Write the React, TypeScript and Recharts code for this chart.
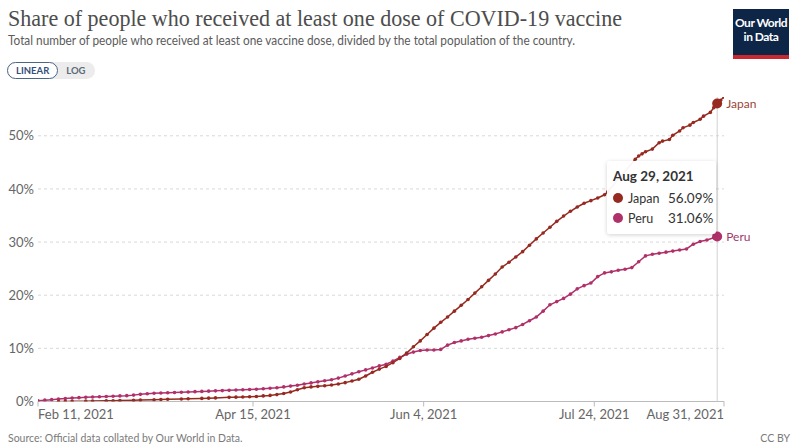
import React from "react";
import {
  LineChart,
  Line,
  XAxis,
  YAxis,
  CartesianGrid,
  Tooltip,
} from "recharts";

// days since Feb 11, 2021
const japanDays = [6, 8, 10, 14, 16, 20, 22, 24, 28, 30, 34, 36, 38, 42, 44, 48, 50, 52, 56, 58, 60, 62, 64, 66, 68, 70, 72, 74, 76, 78, 80, 82, 84, 86, 88, 90, 92, 94, 96, 98, 100, 102, 104, 106, 108, 110, 112, 114, 116, 118, 120, 122, 124, 126, 128, 130, 132, 134, 136, 138, 140, 142, 144, 146, 148, 150, 152, 154, 156, 158, 160, 162, 164, 166, 167, 175, 176, 177, 178, 180, 182, 183, 185, 186, 188, 189, 191, 192, 194, 195, 197, 198, 199, 200, 201];
const japanValues = [0.0, 0.02, 0.04, 0.07, 0.09, 0.12, 0.15, 0.18, 0.22, 0.26, 0.32, 0.37, 0.42, 0.48, 0.53, 0.58, 0.63, 0.68, 0.78, 0.82, 0.86, 0.9, 0.95, 1.05, 1.15, 1.3, 1.5, 1.8, 2.2, 2.6, 2.75, 2.85, 2.95, 3.1, 3.3, 3.55, 3.85, 4.2, 4.8, 5.5, 6.1, 6.6, 7.3, 8.1, 9.1, 10.3, 11.4, 12.6, 13.8, 14.9, 15.9, 17.0, 18.1, 19.2, 20.4, 21.6, 22.8, 24.0, 25.3, 26.2, 27.2, 28.2, 29.4, 30.6, 31.7, 32.8, 33.9, 34.9, 35.8, 36.6, 37.3, 37.8, 38.3, 38.9, 39.5, 45.6, 46.2, 46.6, 47.0, 47.5, 48.7, 49.0, 49.3, 50.1, 50.9, 51.5, 52.0, 52.5, 53.1, 53.7, 54.4, 55.3, 56.09, 56.7, 57.3];

const peruDays = [0, 2, 4, 6, 8, 10, 12, 14, 16, 18, 20, 22, 24, 26, 28, 30, 32, 34, 36, 38, 40, 42, 44, 46, 48, 50, 52, 54, 56, 58, 60, 62, 64, 66, 68, 70, 72, 74, 76, 78, 80, 82, 84, 86, 88, 90, 92, 94, 96, 98, 100, 102, 104, 106, 108, 110, 112, 114, 116, 118, 120, 122, 124, 126, 128, 130, 132, 134, 136, 138, 140, 142, 144, 146, 148, 150, 152, 154, 156, 158, 160, 162, 164, 166, 168, 170, 172, 174, 176, 178, 180, 182, 184, 186, 188, 190, 192, 194, 196, 198, 199];
const peruValues = [0.15, 0.25, 0.35, 0.45, 0.55, 0.65, 0.72, 0.8, 0.85, 0.9, 0.95, 1.0, 1.05, 1.1, 1.2, 1.35, 1.45, 1.55, 1.6, 1.65, 1.7, 1.75, 1.8, 1.85, 1.9, 1.95, 2.0, 2.05, 2.1, 2.15, 2.2, 2.25, 2.3, 2.4, 2.5, 2.6, 2.75, 2.9, 3.05, 3.3, 3.5, 3.7, 3.9, 4.1, 4.4, 4.8, 5.2, 5.6, 5.95, 6.3, 6.7, 7.0, 7.6, 8.3, 8.9, 9.3, 9.6, 9.7, 9.7, 9.8, 10.6, 11.1, 11.4, 11.7, 11.9, 12.1, 12.4, 12.7, 13.1, 13.5, 13.9, 14.5, 15.2, 15.9, 17.0, 18.2, 18.8, 19.4, 20.2, 21.2, 21.8, 22.3, 23.5, 24.2, 24.4, 24.7, 24.9, 25.2, 26.3, 27.4, 27.7, 27.9, 28.1, 28.3, 28.5, 28.7, 29.6, 30.1, 30.4, 30.8, 31.06];

const xTicks = [0, 63, 113, 163, 201];
const xTickLabels = ["Feb 11, 2021", "Apr 15, 2021", "Jun 4, 2021", "Jul 24, 2021", "Aug 31, 2021"];
const yTicks = [0, 10, 20, 30, 40, 50];
const yMax = 57.3;
const hoverDay = 199;
const hoverLabel = "Aug 29, 2021";

const JAPAN = "#962a20";
const PERU = "#b0306a";

type Row = { d: number; japan?: number | null; peru?: number | null };

const allDays = Array.from(new Set([...japanDays, ...peruDays])).sort((a, b) => a - b);
const rows: Row[] = allDays.map((d) => {
  const ji = japanDays.indexOf(d);
  const pi = peruDays.indexOf(d);
  return {
    d,
    japan: ji >= 0 ? japanValues[ji] : null,
    peru: pi >= 0 ? peruValues[pi] : null,
  };
});
const hoverIndex = rows.findIndex((r) => r.d === hoverDay);

const XTick = (props: any) => {
  const { x, y, payload } = props;
  const i = xTicks.indexOf(payload.value);
  const anchor = i === 0 ? "start" : i === xTicks.length - 1 ? "end" : "middle";
  return (
    <text x={x} y={y} dy="0.71em" textAnchor={anchor} fill="#666" fontSize={13} fontFamily="Lato">
      {xTickLabels[i]}
    </text>
  );
};

const makeEndLabel = (name: string, color: string) => (props: any) => {
  const { x, y, index } = props;
  if (rows[index]?.d !== hoverDay || y == null) return null;
  return (
    <text x={x + 9} y={y} dy="0.35em" fill={color} fontSize={12} fontFamily="Lato" key={name}>
      {name}
    </text>
  );
};

const TooltipBox = () => {
  const row = rows[hoverIndex];
  const items = [
    { name: "Japan", color: JAPAN, v: row.japan },
    { name: "Peru", color: PERU, v: row.peru },
  ];
  return (
    <div
      style={{
        background: "rgba(255,255,255,0.95)",
        boxShadow: "0 1px 4px rgba(0,0,0,0.18)",
        borderRadius: 3,
        padding: "7px 6px 6px 6px",
        fontFamily: "Lato",
        color: "#333",
        width: 109,
        minWidth: 109,
        boxSizing: "border-box",
      }}
    >
      <div style={{ fontWeight: 700, fontSize: 13.5, marginBottom: 4, whiteSpace: "nowrap" }}>{hoverLabel}</div>
      {items.map((it) => (
        <div key={it.name} style={{ display: "flex", alignItems: "center", height: 20, fontSize: 12.5, whiteSpace: "nowrap" }}>
          <span
            style={{
              width: 10,
              height: 10,
              borderRadius: 5,
              background: it.color,
              display: "inline-block",
              marginRight: 5,
              flex: "none",
            }}
          />
          <span style={{ width: 40, flex: "none" }}>{it.name}</span>
          <span style={{ fontSize: 13.5 }}>{(it.v as number).toFixed(2)}%</span>
        </div>
      ))}
    </div>
  );
};

export default function App() {
  return (
    <div
      style={{
        position: "absolute",
        left: 0,
        top: 0,
        width: 800,
        height: 448,
        background: "#fff",
        overflow: "hidden",
        fontFamily: "Lato",
      }}
    >
      <svg width={800} height={60} style={{ position: "absolute", left: 0, top: 0 }}>
        <text
          x={8}
          y={26}
          fontFamily="Liberation Serif"
          fontSize={24}
          fill="#4d4d4d"
          textLength={614}
          lengthAdjust="spacingAndGlyphs"
        >
          Share of people who received at least one dose of COVID-19 vaccine
        </text>
        <text
          x={8}
          y={45}
          fontFamily="Lato"
          fontSize={12.5}
          fill="#5b5b5b"
          textLength={567}
          lengthAdjust="spacingAndGlyphs"
        >
          Total number of people who received at least one vaccine dose, divided by the total population of the country.
        </text>
      </svg>

      <div
        style={{
          position: "absolute",
          left: 733,
          top: 9,
          width: 56,
          height: 50,
          background: "#0d2547",
          borderBottom: "4px solid #c8282e",
          boxSizing: "border-box",
          color: "#fff",
          fontFamily: "Lato",
          fontSize: 12,
          fontWeight: 700,
          lineHeight: "14px",
          textAlign: "center",
          paddingTop: 7,
          letterSpacing: -0.5,
        }}
      >
        Our World
        <br />
        in Data
      </div>

      <div
        style={{
          position: "absolute",
          left: 7,
          top: 62,
          height: 17,
          display: "flex",
          fontFamily: "Lato",
          fontSize: 9.5,
          fontWeight: 700,
          borderRadius: 9,
          background: "#ececec",
        }}
      >
        <div
          style={{
            border: "1px solid #4b6585",
            borderRadius: 9,
            background: "#fff",
            color: "#33507a",
            padding: "0 8px",
            lineHeight: "15px",
          }}
        >
          LINEAR
        </div>
        <div style={{ color: "#5d6a7a", padding: "0 9px 0 8px", lineHeight: "17px" }}>LOG</div>
      </div>

      <div style={{ position: "absolute", left: 0, top: 0 }}>
        <LineChart
          width={800}
          height={448}
          data={rows}
          margin={{ top: 97, right: 76, bottom: 16, left: 0 }}
        >
          <CartesianGrid
            vertical={false}
            strokeDasharray="3 3"
            stroke="#d9d9d9"
            horizontalCoordinatesGenerator={(p: any) =>
              yTicks
                .filter((t) => t > 0)
                .map((t) => p.offset.top + p.offset.height * (1 - t / yMax))
            }
          />
          <XAxis
            dataKey="d"
            type="number"
            domain={[0, 201]}
            ticks={xTicks}
            tick={<XTick />}
            tickSize={5}
            tickMargin={3}
            height={30.5}
            stroke="#bbb"
            interval={0}
            allowDataOverflow
          />
          <YAxis
            type="number"
            domain={[0, yMax]}
            ticks={yTicks}
            width={38}
            axisLine={false}
            tickLine={false}
            tickSize={0}
            tickMargin={4}
            tickFormatter={(v: number) => `${v}%`}
            tick={{ fill: "#666", fontSize: 13, fontFamily: "Lato" }}
            allowDataOverflow
          />
          <Tooltip
            defaultIndex={hoverIndex}
            active={true}
            isAnimationActive={false}
            position={{ x: 607, y: 161 }}
            cursor={{ stroke: "#d0d0d0", strokeWidth: 1 }}
            content={<TooltipBox />}
            wrapperStyle={{ transition: "none" }}
          />
          <Line
            dataKey="peru"
            stroke={PERU}
            strokeWidth={1.5}
            dot={{ r: 1.8, fill: PERU, stroke: "none" }}
            activeDot={{ r: 5, fill: PERU, stroke: "none" }}
            connectNulls
            isAnimationActive={false}
            label={makeEndLabel("Peru", "#a13a6a")}
          />
          <Line
            dataKey="japan"
            stroke={JAPAN}
            strokeWidth={1.5}
            dot={{ r: 1.8, fill: JAPAN, stroke: "none" }}
            activeDot={{ r: 5, fill: JAPAN, stroke: "none" }}
            connectNulls
            isAnimationActive={false}
            label={makeEndLabel("Japan", "#9b4436")}
          />
        </LineChart>
      </div>

      <div
        style={{
          position: "absolute",
          left: 8,
          top: 432,
          fontFamily: "Lato",
          fontSize: 10.5,
          color: "#7a7a7a",
        }}
      >
        Source: Official data collated by Our World in Data.
      </div>
      <div
        style={{
          position: "absolute",
          right: 10,
          top: 432,
          fontFamily: "Lato",
          fontSize: 10.5,
          color: "#7a7a7a",
        }}
      >
        CC BY
      </div>
    </div>
  );
}
